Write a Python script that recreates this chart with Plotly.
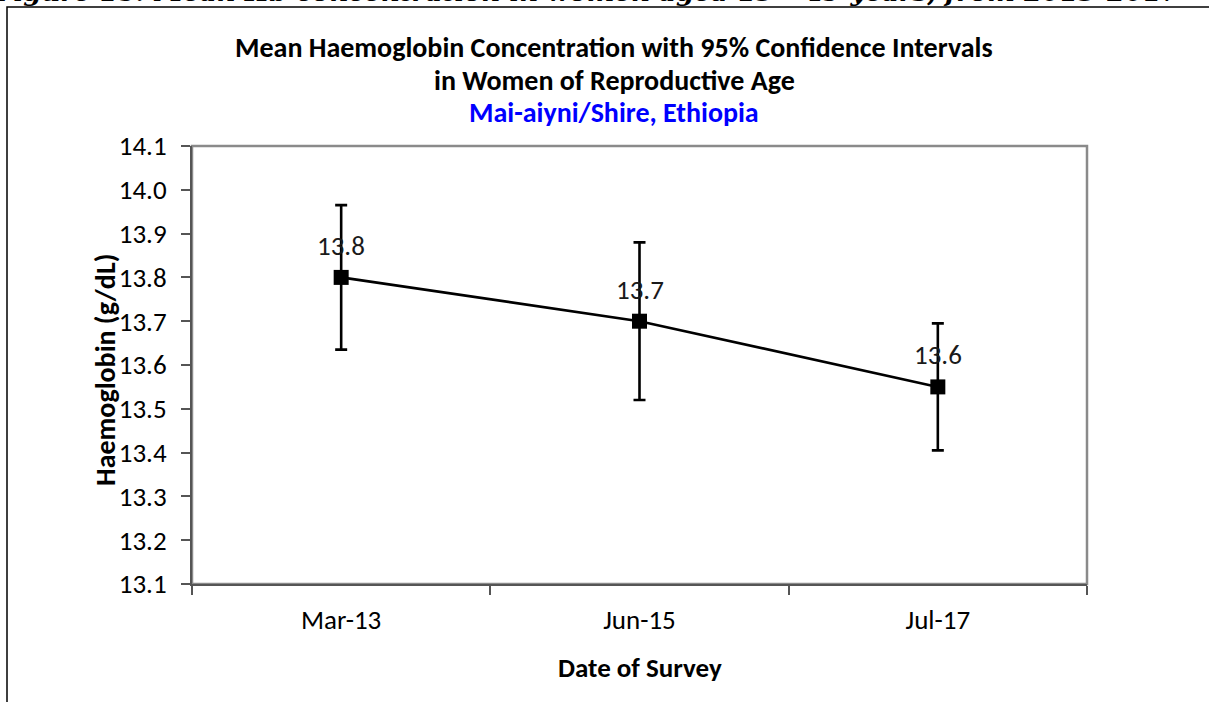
import plotly.graph_objects as go

# Survey rounds and haemoglobin estimates (g/dL)
surveys = ["Mar-13", "Jun-15", "Jul-17"]
mean_hb = [13.80, 13.70, 13.55]
ci_upper = [13.965, 13.88, 13.695]
ci_lower = [13.635, 13.52, 13.405]

y_ticks = [13.1, 13.2, 13.3, 13.4, 13.5, 13.6, 13.7, 13.8, 13.9, 14.0, 14.1]

err_plus = [u - m for u, m in zip(ci_upper, mean_hb)]
err_minus = [m - l for m, l in zip(mean_hb, ci_lower)]

SANS = "Calibri, Carlito, Lato, sans-serif"

# pixel -> paper helpers for a plot area spanning x 192..1087, y 146..584
def px(x):
    return (x - 192) / 895


def py(y):
    return (584 - y) / 438


fig = go.Figure()
fig.add_trace(go.Scatter(
    x=surveys,
    y=mean_hb,
    mode="lines+markers",
    line=dict(color="black", width=2.6),
    marker=dict(symbol="square", size=15, color="black"),
    error_y=dict(type="data", array=err_plus, arrayminus=err_minus,
                 color="black", thickness=2.6, width=6, visible=True),
    showlegend=False,
    cliponaxis=False,
))

annotations = []
# value labels above each point
for s, m in zip(surveys, mean_hb):
    annotations.append(dict(
        x=s, y=m, xref="x", yref="y", text=f"{m:.1f}",
        showarrow=False, yshift=32, yanchor="middle",
        font=dict(family=SANS, size=27, color="#1a1a1a"),
    ))

# chart titles
title_x = px(614)
annotations += [
    dict(x=title_x, y=py(47), xref="paper", yref="paper", yanchor="middle",
         text="<b>Mean Haemoglobin Concentration with 95% Confidence Intervals</b>",
         showarrow=False, font=dict(family=SANS, size=28, color="black")),
    dict(x=title_x, y=py(80), xref="paper", yref="paper", yanchor="middle",
         text="<b>in Women of Reproductive Age</b>",
         showarrow=False, font=dict(family=SANS, size=28, color="black")),
    dict(x=title_x, y=py(112), xref="paper", yref="paper", yanchor="middle",
         text="<b>Mai-aiyni/Shire, Ethiopia</b>",
         showarrow=False, font=dict(family=SANS, size=28, color="#0000ff")),
    # axis titles
    dict(x=px(105), y=py(370), xref="paper", yref="paper", xanchor="center", yanchor="middle",
         textangle=-90, text="<b>Haemoglobin (g/dL)</b>",
         showarrow=False, font=dict(family=SANS, size=28, color="black")),
    dict(x=0.5, y=py(667), xref="paper", yref="paper", xanchor="center", yanchor="middle",
         text="<b>Date of Survey</b>",
         showarrow=False, font=dict(family=SANS, size=27, color="black")),
    # document caption above the chart frame
    dict(x=px(-8), y=py(9), xref="paper", yref="paper",
         xanchor="left", yanchor="bottom",
         text="<b><i>Figure 18: Mean Hb concentration in women aged 15 – 49 years, from 2013-2017</i></b>",
         showarrow=False, font=dict(family="DejaVu Serif", size=26, color="black")),
]

shapes = [
    # outer chart frame
    dict(type="rect", xref="paper", yref="paper",
         x0=px(7), x1=1.3, y0=-0.5, y1=py(7),
         line=dict(color="black", width=1.5), layer="below"),
    # plot area border
    dict(type="rect", xref="paper", yref="paper", x0=0, x1=1, y0=0, y1=1,
         line=dict(color="#8a8a8a", width=2.5), layer="below"),
]

fig.update_layout(
    width=1209, height=702,
    margin=dict(l=192, r=122, t=146, b=118, pad=0),
    paper_bgcolor="white", plot_bgcolor="white",
    annotations=annotations,
    shapes=shapes,
    font=dict(family=SANS, color="black"),
    xaxis=dict(
        type="category", range=[-0.5, 2.5], tickson="boundaries",
        ticks="outside", ticklen=9, tickwidth=1.5, tickcolor="#555555",
        showline=True, linecolor="#555555", linewidth=2,
        showgrid=False, zeroline=False,
        tickfont=dict(family=SANS, size=27, color="black"),
        ticklabelstandoff=11,
    ),
    yaxis=dict(
        range=[13.1, 14.1], tickvals=y_ticks, ticktext=[f"{v:.1f}" for v in y_ticks],
        ticks="outside", ticklen=9, tickwidth=1.5, tickcolor="#555555",
        showline=True, linecolor="#555555", linewidth=2,
        showgrid=False, zeroline=False,
        tickfont=dict(family=SANS, size=27, color="black"),
        ticklabelstandoff=9,
    ),
)

fig.write_html("out.html")
